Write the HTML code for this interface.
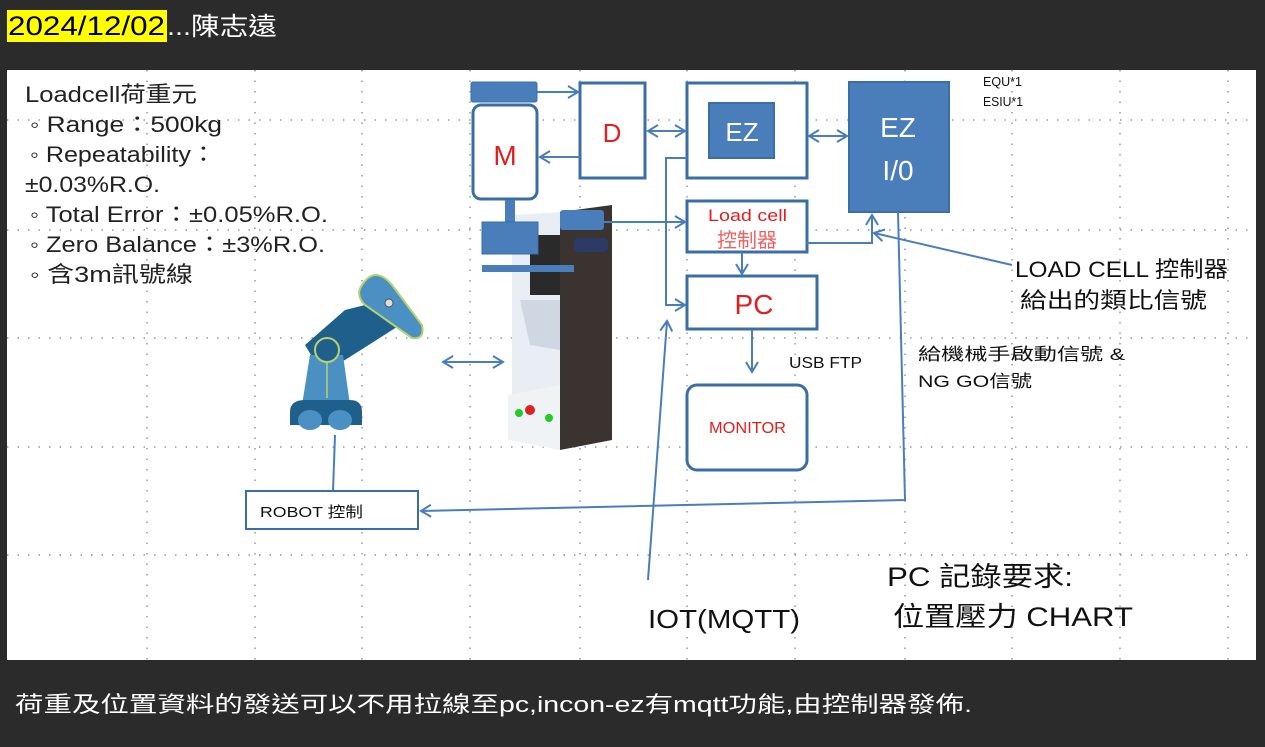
<!DOCTYPE html>
<html><head><meta charset="utf-8"><style>
html,body{margin:0;padding:0;background:#2b2b2b;}
body{width:1265px;height:747px;overflow:hidden;position:relative;font-family:"Liberation Sans","Noto Sans CJK TC",sans-serif;}
svg{position:absolute;left:0;top:0;}
</style></head><body>
<svg width="1265" height="747" viewBox="0 0 1265 747" font-family="Liberation Sans, Noto Sans CJK TC, sans-serif">
<defs>
<marker id="a" markerWidth="14" markerHeight="14" refX="11" refY="7" orient="auto-start-reverse" markerUnits="userSpaceOnUse">
<path d="M1,1 L11,7 L1,13" fill="none" stroke="#4a7ebb" stroke-width="2"/></marker>
</defs>
<rect x="0" y="0" width="1265" height="747" fill="#2b2b2b"/>
<rect x="7" y="10" width="160" height="32" fill="#ffff00"/>
<text x="8" y="35" font-size="27" fill="#000" textLength="157" lengthAdjust="spacingAndGlyphs">2024/12/02</text>
<text x="167" y="35" font-size="25" fill="#fff" textLength="110" lengthAdjust="spacingAndGlyphs">...陳志遠</text>
<rect x="7" y="70" width="1249" height="590" fill="#fff"/>
<g stroke="#999" stroke-width="1.5" stroke-dasharray="1.5 9">
<line x1="7" y1="120" x2="1256" y2="120"/><line x1="7" y1="230" x2="1256" y2="230"/>
<line x1="7" y1="338" x2="1256" y2="338"/><line x1="7" y1="447" x2="1256" y2="447"/>
<line x1="7" y1="555" x2="1256" y2="555"/>
<line x1="147" y1="70" x2="147" y2="660"/><line x1="255" y1="70" x2="255" y2="660"/>
<line x1="362" y1="70" x2="362" y2="660"/><line x1="470" y1="70" x2="470" y2="660"/>
<line x1="580" y1="70" x2="580" y2="660"/><line x1="687" y1="70" x2="687" y2="660"/>
<line x1="795" y1="70" x2="795" y2="660"/><line x1="905" y1="70" x2="905" y2="660"/>
<line x1="1012" y1="70" x2="1012" y2="660"/><line x1="1120" y1="70" x2="1120" y2="660"/>
<line x1="1228" y1="70" x2="1228" y2="660"/>
</g>
<g font-size="22" fill="#222" lengthAdjust="spacingAndGlyphs">
<text x="25" y="102" textLength="172" lengthAdjust="spacingAndGlyphs">Loadcell荷重元</text>
<text x="30" y="132" textLength="192" lengthAdjust="spacingAndGlyphs">◦ Range：500kg</text>
<text x="30" y="162" textLength="186" lengthAdjust="spacingAndGlyphs">◦ Repeatability：</text>
<text x="25" y="192" textLength="135" lengthAdjust="spacingAndGlyphs">±0.03%R.O.</text>
<text x="30" y="222" textLength="298" lengthAdjust="spacingAndGlyphs">◦ Total Error：±0.05%R.O.</text>
<text x="30" y="252" textLength="295" lengthAdjust="spacingAndGlyphs">◦ Zero Balance：±3%R.O.</text>
<text x="30" y="282" textLength="163" lengthAdjust="spacingAndGlyphs">◦ 含3m訊號線</text>
</g>
<!-- press machine -->
<polygon points="560,212 612,205 612,440 560,450" fill="#3a3330"/>
<polygon points="512,215 560,212 560,450 512,440" fill="#e8eef4"/>
<polygon points="520,300 560,300 560,350 530,345" fill="#cfd8e2"/>
<rect x="530" y="235" width="30" height="60" fill="#2a2a2a"/>
<polygon points="508,395 560,385 560,450 508,440" fill="#f0f3f6"/>
<circle cx="519" cy="413" r="4" fill="#2c2"/><circle cx="530" cy="410" r="5" fill="#d22"/><circle cx="549" cy="418" r="4" fill="#2c2"/>
<rect x="574" y="238" width="34" height="14" rx="4" fill="#2b3b66"/>
<!-- M -->
<rect x="471" y="82" width="66" height="20" rx="2" fill="#4a7ebb" stroke="#3b6ea5"/>
<rect x="473" y="105" width="64" height="94" rx="8" fill="#fff" stroke="#3b6ea5" stroke-width="3"/>
<text x="505" y="165" font-size="28" fill="#e02020" text-anchor="middle">M</text>
<rect x="505" y="200" width="10" height="22" fill="#4a7ebb"/>
<rect x="482" y="222" width="56" height="32" fill="#4a7ebb" stroke="#3b6ea5"/>
<rect x="482" y="265" width="92" height="7" fill="#4a7ebb"/>
<rect x="560" y="210" width="44" height="20" rx="3" fill="#4a7ebb"/>
<!-- D -->
<rect x="580" y="83" width="65" height="95" fill="#fff" stroke="#3b6ea5" stroke-width="3"/>
<text x="612" y="142" font-size="26" fill="#e02020" text-anchor="middle">D</text>
<!-- EZ -->
<rect x="687" y="83" width="120" height="95" fill="#fff" stroke="#3b6ea5" stroke-width="3"/>
<rect x="709" y="103" width="65" height="55" fill="#4a7ebb" stroke="#3b6ea5" stroke-width="2"/>
<text x="742" y="141" font-size="26" fill="#fff" text-anchor="middle">EZ</text>
<rect x="849" y="82" width="100" height="130" fill="#4a7ebb" stroke="#3b6ea5" stroke-width="2"/>
<text x="898" y="137" font-size="28" fill="#fff" text-anchor="middle">EZ</text>
<text x="898" y="180" font-size="28" fill="#fff" text-anchor="middle">I/0</text>
<!-- Load cell -->
<rect x="687" y="201" width="120" height="51" fill="#fff" stroke="#3b6ea5" stroke-width="3"/>
<text x="708" y="221" font-size="17" fill="#e02020" textLength="79" lengthAdjust="spacingAndGlyphs">Load cell</text>
<text x="747" y="247" font-size="20" fill="#f06060" text-anchor="middle">控制器</text>
<!-- PC -->
<rect x="687" y="276" width="130" height="53" fill="#fff" stroke="#3b6ea5" stroke-width="3"/>
<text x="754" y="314" font-size="28" fill="#e02020" text-anchor="middle">PC</text>
<rect x="687" y="385" width="120" height="85" rx="10" fill="#fff" stroke="#3b6ea5" stroke-width="3"/>
<text x="709" y="433" font-size="16" fill="#e02020" textLength="77" lengthAdjust="spacingAndGlyphs">MONITOR</text>
<text x="789" y="368" font-size="16" fill="#111" textLength="73" lengthAdjust="spacingAndGlyphs">USB FTP</text>
<g stroke="#4a7ebb" stroke-width="2" fill="none">
<line x1="537" y1="92" x2="578" y2="92" marker-end="url(#a)"/>
<line x1="580" y1="157" x2="540" y2="157" marker-end="url(#a)"/>
<line x1="648" y1="131" x2="685" y2="131" marker-start="url(#a)" marker-end="url(#a)"/>
<line x1="809" y1="136" x2="847" y2="136" marker-start="url(#a)" marker-end="url(#a)"/>
<line x1="604" y1="222" x2="685" y2="222" marker-end="url(#a)"/>
<polyline points="807,243 872,243 872,215" marker-end="url(#a)"/>
<line x1="742" y1="252" x2="742" y2="274" marker-end="url(#a)"/>
<polyline points="687,158 666,158 666,305 685,305" marker-end="url(#a)"/>
<line x1="752" y1="330" x2="752" y2="372" marker-end="url(#a)"/>
<line x1="648" y1="580" x2="667" y2="321" marker-end="url(#a)"/>
<polyline points="898,212 905,500 421,511" marker-end="url(#a)"/>
<line x1="1012" y1="265" x2="874" y2="233" marker-end="url(#a)"/>
<line x1="443" y1="362" x2="503" y2="362" marker-start="url(#a)" marker-end="url(#a)"/>
<line x1="335" y1="435" x2="333" y2="491"/>
</g>
<!-- robot -->
<polygon points="305,345 345,310 385,300 400,325 345,360 320,370" fill="#1f5f8b"/>
<polygon points="310,355 343,355 350,405 302,405" fill="#4a90c2"/>
<circle cx="327" cy="350" r="12" fill="#1f5f8b" stroke="#b6d36b" stroke-width="2"/>
<line x1="327" y1="362" x2="327" y2="398" stroke="#b6d36b" stroke-width="1.5"/>
<path d="M290,420 L290,412 Q290,400 305,400 L350,400 Q362,400 362,412 L362,425 L290,425Z" fill="#1f5f8b"/>
<ellipse cx="310" cy="420" rx="12" ry="10" fill="#4a90c2"/><ellipse cx="340" cy="420" rx="12" ry="10" fill="#4a90c2"/>
<path d="M362,285 Q375,265 392,285 L422,325 Q425,340 412,338 L365,305 Q355,295 362,285Z" fill="#4a90c2" stroke="#b6d36b" stroke-width="2"/>
<circle cx="389" cy="303" r="4" fill="#ddd" stroke="#555"/>
<rect x="246" y="491" width="172" height="38" fill="#fff" stroke="#3b6ea5" stroke-width="2"/>
<text x="260" y="517" font-size="15" fill="#111" textLength="103" lengthAdjust="spacingAndGlyphs">ROBOT  控制</text>
<text x="983" y="86" font-size="13" fill="#111" textLength="39" lengthAdjust="spacingAndGlyphs">EQU*1</text>
<text x="983" y="106" font-size="13" fill="#111" textLength="40" lengthAdjust="spacingAndGlyphs">ESIU*1</text>
<text x="1015" y="277" font-size="22" fill="#111" textLength="213" lengthAdjust="spacingAndGlyphs">LOAD   CELL 控制器</text>
<text x="1020" y="308" font-size="22" fill="#111" textLength="187" lengthAdjust="spacingAndGlyphs">給出的類比信號</text>
<text x="918" y="360" font-size="17" fill="#111" textLength="207" lengthAdjust="spacingAndGlyphs">給機械手啟動信號 &amp;</text>
<text x="918" y="387" font-size="17" fill="#111" textLength="114" lengthAdjust="spacingAndGlyphs">NG  GO信號</text>
<text x="648" y="628" font-size="26" fill="#111" textLength="152" lengthAdjust="spacingAndGlyphs">IOT(MQTT)</text>
<text x="887" y="586" font-size="27" fill="#111" textLength="186" lengthAdjust="spacingAndGlyphs">PC 記錄要求:</text>
<text x="893" y="626" font-size="27" fill="#111" textLength="240" lengthAdjust="spacingAndGlyphs">位置壓力 CHART</text>
<text x="15" y="712" font-size="22" fill="#fff" textLength="957" lengthAdjust="spacingAndGlyphs">荷重及位置資料的發送可以不用拉線至pc,incon-ez有mqtt功能,由控制器發佈.</text>
</svg>
</body></html>
